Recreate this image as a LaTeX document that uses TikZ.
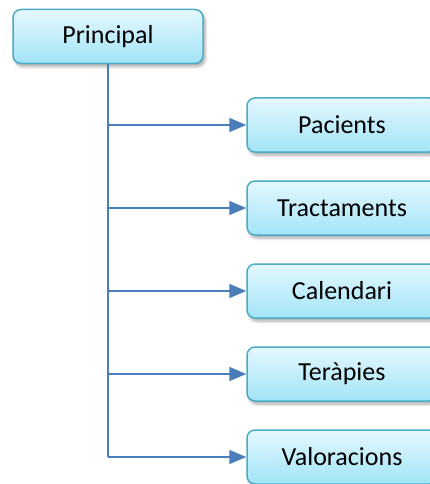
\documentclass[tikz,border=0pt]{standalone}
\usepackage{fontspec}
\setmainfont{Carlito}
\usetikzlibrary{arrows.meta,shadows.blur}
\definecolor{boxedge}{HTML}{4BACC6}
\definecolor{boxtop}{HTML}{E4F8FE}
\definecolor{boxbottom}{HTML}{A2E4F7}
\definecolor{linkblue}{HTML}{4A7EBB}
\tikzset{
  menubox/.style={draw=boxedge, line width=1.5pt, rounded corners=8pt,
    top color=boxtop, bottom color=boxbottom,
    minimum width=190pt, minimum height=54pt, inner sep=0pt,
    font=\fontsize{26}{30}\selectfont, text=black,
    blur shadow={shadow xshift=2pt, shadow yshift=-3pt, shadow blur steps=6,
      shadow opacity=35, shadow blur radius=3pt}},
  trunk/.style={draw=linkblue, line width=2pt},
  branch/.style={draw=linkblue, line width=1.6pt,
    -{Triangle[length=17pt,width=14pt]}}
}
\begin{document}
\begin{tikzpicture}[x=1pt,y=-1pt]
  \useasboundingbox (0,0) rectangle (430,484);
  \clip (0,0) rectangle (430,484);
  \node[menubox] (main) at (108,36.5) {Principal};
  \node[menubox] (pac) at (342,125) {Pacients};
  \node[menubox] (tra) at (342,208) {Tractaments};
  \node[menubox] (cal) at (342,291) {Calendari};
  \node[menubox] (ter) at (342,374) {Teràpies};
  \node[menubox] (val) at (342,457) {Valoracions};
  \draw[trunk] (main.south) -- (main.south |- val.west);
  \foreach \c in {pac,tra,cal,ter,val}
    \draw[branch] (main.south |- \c.west) -- (\c.west);
\end{tikzpicture}
\end{document}
